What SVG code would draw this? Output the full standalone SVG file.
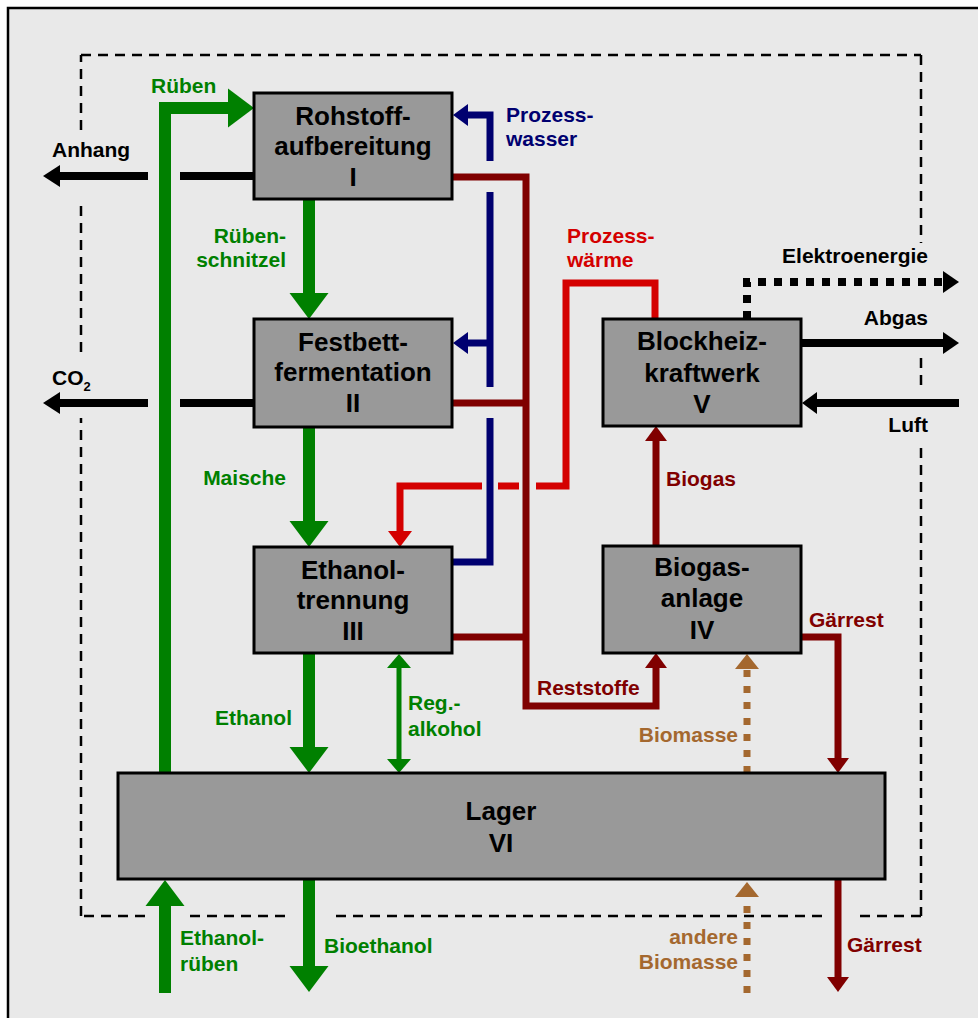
<svg xmlns="http://www.w3.org/2000/svg" width="978" height="1018" viewBox="0 0 978 1018">
<style>
.frame{fill:#e9e9e9;stroke:#000;stroke-width:2.5}
.dash{fill:none;stroke:#000;stroke-width:2.5;stroke-dasharray:10 7}
.box{fill:#999;stroke:#000;stroke-width:3}
text{font-family:"Liberation Sans",Arial,Helvetica,sans-serif;font-weight:bold}
.nt{font-size:26px;text-anchor:middle;fill:#000}
.lb{font-size:21px}
.end{text-anchor:end}
.ln{fill:none;stroke-linejoin:miter;stroke-linecap:butt}
.gT{stroke:#008000;stroke-width:12}
.gt{stroke:#008000;stroke-width:5}
.bk{stroke:#000;stroke-width:8}
.bkd{stroke:#000;stroke-width:8;stroke-dasharray:8 8}
.dr{stroke:#800000;stroke-width:7}
.rd{stroke:#d40000;stroke-width:7}
.bl{stroke:#000070;stroke-width:7}
.br{stroke:#a4682f;stroke-width:7;stroke-dasharray:7 9}
.fg{fill:#008000}
.fk{fill:#000}
.fdr{fill:#800000}
.frd{fill:#d40000}
.fbl{fill:#000070}
.fbr{fill:#a4682f}
</style>
<rect x="0" y="0" width="978" height="1018" fill="#fff"/>
<rect class="frame" x="8" y="8" width="1010" height="1060"/>
<g id="system-boundary">
<path class="dash" d="M81,55 H921 M921,55 V243 M921,358 V387 M921,448 V916 M921,916 H853 M822,916 H330 M285,916 H187 M145,916 H81 M81,916 V418 M81,352 V200 M81,130 V55"/>
</g>
<g id="connectors">
<!-- green main flow -->
<path class="ln gT" d="M165,773 V108 H230"/>
<polygon class="fg" points="228,88.5 254,108 228,127.5"/>
<path class="ln gT" d="M309,199 V295"/>
<polygon class="fg" points="289.5,293 328.5,293 309,319"/>
<path class="ln gT" d="M309,427 V523"/>
<polygon class="fg" points="289.5,521 328.5,521 309,547"/>
<path class="ln gT" d="M309,653 V749"/>
<polygon class="fg" points="289.5,747 328.5,747 309,773"/>
<path class="ln gT" d="M165,993 V904"/>
<polygon class="fg" points="145.5,906 184.5,906 165,880"/>
<path class="ln gT" d="M309,879 V968"/>
<polygon class="fg" points="289.5,966 328.5,966 309,992"/>
<path class="ln gt" d="M399,666 V761"/>
<polygon class="fg" points="387,668 411,668 399,654"/>
<polygon class="fg" points="387,759 411,759 399,773"/>
<!-- black -->
<path class="ln bk" d="M254,176 H180 M148,176 H58"/>
<polygon class="fk" points="60,165 60,187 43,176"/>
<path class="ln bk" d="M254,403 H180 M148,403 H58"/>
<polygon class="fk" points="60,392 60,414 43,403"/>
<path class="ln bk" d="M801,343 H945"/>
<polygon class="fk" points="943,332 943,354 959,343"/>
<path class="ln bk" d="M959,403 H815"/>
<polygon class="fk" points="817,392 817,414 802,403"/>
<path class="ln bkd" d="M747,319 V282 H942"/>
<polygon class="fk" points="943,271 943,293 959,282"/>
<!-- dark red -->
<path class="ln dr" d="M452,177 H526 V706 H656 V666"/>
<polygon class="fdr" points="645,668 667,668 656,653"/>
<path class="ln dr" d="M452,403 H526 M452,637 H526"/>
<path class="ln dr" d="M656,546 V439"/>
<polygon class="fdr" points="645,441 667,441 656,426"/>
<path class="ln dr" d="M801,637 H838 V760"/>
<polygon class="fdr" points="827,758 849,758 838,773"/>
<path class="ln dr" d="M838,879 V979"/>
<polygon class="fdr" points="827,977 849,977 838,992"/>
<!-- red -->
<path class="ln rd" d="M655,319 V283 H566 V486 H536 M519,486 H498 M482,486 H400 V533"/>
<polygon class="frd" points="388,531 412,531 400,547"/>
<!-- blue -->
<path class="ln bl" d="M452,562 H490 V418 M490,387 V192 M490,161 V115 H466"/>
<polygon class="fbl" points="468,104 468,126 453,115"/>
<path class="ln bl" d="M490,343 H466"/>
<polygon class="fbl" points="468,332 468,354 453,343"/>
<!-- brown dotted -->
<path class="ln br" d="M747,773 V668"/>
<polygon class="fbr" points="735,669 759,669 747,654"/>
<path class="ln br" d="M747,993 V896"/>
<polygon class="fbr" points="735,897 759,897 747,882"/>
</g>
<g id="node-I">
<rect class="box" x="254" y="93" width="198" height="106"/>
<text class="nt" x="353" y="125">Rohstoff-</text>
<text class="nt" x="353" y="155">aufbereitung</text>
<text class="nt" x="353" y="186">I</text>
</g>
<g id="node-II">
<rect class="box" x="254" y="319" width="198" height="108"/>
<text class="nt" x="353" y="351">Festbett-</text>
<text class="nt" x="353" y="381">fermentation</text>
<text class="nt" x="353" y="412">II</text>
</g>
<g id="node-III">
<rect class="box" x="254" y="547" width="198" height="106"/>
<text class="nt" x="353" y="579">Ethanol-</text>
<text class="nt" x="353" y="609">trennung</text>
<text class="nt" x="353" y="640">III</text>
</g>
<g id="node-IV">
<rect class="box" x="603" y="546" width="198" height="107"/>
<text class="nt" x="702" y="576">Biogas-</text>
<text class="nt" x="702" y="607">anlage</text>
<text class="nt" x="702" y="639">IV</text>
</g>
<g id="node-V">
<rect class="box" x="603" y="319" width="198" height="107"/>
<text class="nt" x="702" y="350">Blockheiz-</text>
<text class="nt" x="702" y="382">kraftwerk</text>
<text class="nt" x="702" y="413">V</text>
</g>
<g id="node-VI">
<rect class="box" x="118" y="773" width="767" height="106"/>
<text class="nt" x="501" y="820">Lager</text>
<text class="nt" x="501" y="852">VI</text>
</g>
<g id="labels">
<text class="lb fg" x="151" y="93">Rüben</text>
<text class="lb fg end" x="286" y="243">Rüben-</text>
<text class="lb fg end" x="286" y="267">schnitzel</text>
<text class="lb fg end" x="286" y="485">Maische</text>
<text class="lb fg end" x="292" y="725">Ethanol</text>
<text class="lb fg" x="408" y="710">Reg.-</text>
<text class="lb fg" x="408" y="736">alkohol</text>
<text class="lb fg" x="180" y="945">Ethanol-</text>
<text class="lb fg" x="180" y="971">rüben</text>
<text class="lb fg" x="324" y="953">Bioethanol</text>
<text class="lb fk" x="52" y="157">Anhang</text>
<text class="lb fk" x="52" y="385">CO<tspan font-size="13" dy="6">2</tspan></text>
<text class="lb fbl" x="506" y="122">Prozess-</text>
<text class="lb fbl" x="506" y="146">wasser</text>
<text class="lb frd" x="567" y="243">Prozess-</text>
<text class="lb frd" x="567" y="267">wärme</text>
<text class="lb fk end" x="928" y="263">Elektroenergie</text>
<text class="lb fk end" x="928" y="325">Abgas</text>
<text class="lb fk end" x="928" y="432">Luft</text>
<text class="lb fdr" x="666" y="486">Biogas</text>
<text class="lb fdr" x="809" y="627">Gärrest</text>
<text class="lb fdr" x="537" y="695">Reststoffe</text>
<text class="lb fdr" x="847" y="952">Gärrest</text>
<text class="lb fbr end" x="738" y="742">Biomasse</text>
<text class="lb fbr end" x="738" y="944">andere</text>
<text class="lb fbr end" x="738" y="969">Biomasse</text>
</g>
</svg>
